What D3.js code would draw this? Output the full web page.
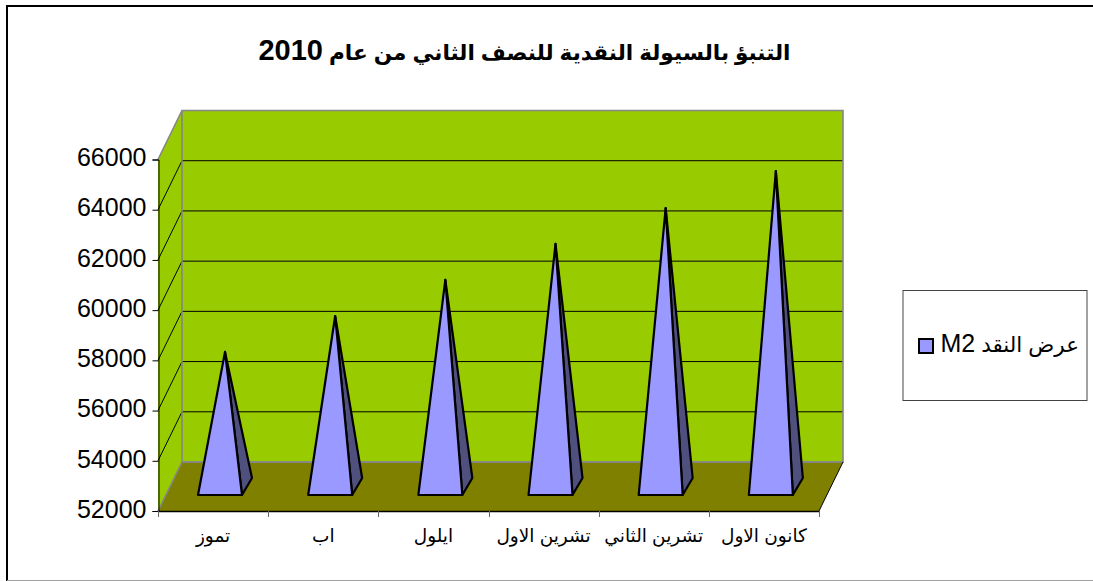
<!DOCTYPE html>
<html><head><meta charset="utf-8">
<script src="https://cdn.jsdelivr.net/npm/d3@7"></script>
<style>html,body{margin:0;padding:0;background:#fff}svg{display:block}text{font-family:"Liberation Sans","DejaVu Sans",sans-serif;fill:#000}</style>
</head><body><svg id="c" width="1093" height="581"></svg>
<script>
const categories=["تموز","اب","ايلول","تشرين الاول","تشرين الثاني","كانون الاول"];
const values=[57360,58790,60230,61660,63090,64560];
const yTicks=[52000,54000,56000,58000,60000,62000,64000,66000];
const titleArabic="التنبؤ بالسيولة النقدية للنصف الثاني من عام ";
const titleYear="2010";
const legendArabic="عرض النقد ";
const legendCode="M2";

const svg=d3.select("#c");
const depth={x:24,y:-49};
const x=d3.scaleBand().domain(categories).range([158,819]);
const y=d3.scaleLinear().domain([52000,66000]).range([511,159.5]);
const P=(a,b,d=0)=>[a+depth.x*d,b+depth.y*d];
const line=d3.line();
const poly=(pts,fill,stroke,w)=>svg.append("path").attr("d",line(pts)+"Z").attr("fill",fill).attr("stroke",stroke||"none").attr("stroke-width",w||0).attr("stroke-linejoin","round");
const seg=(pts,stroke,w)=>svg.append("path").attr("d",line(pts)).attr("fill","none").attr("stroke",stroke).attr("stroke-width",w);

// outer frame: heavy top and left, faint bottom
seg([[7,581],[7,6],[1093,6]],"#000",2);
seg([[7,580.5],[1093,580.5]],"#a0a0a0",1);

const x0=x.range()[0],x1=x.range()[1],y0=y(52000),yT=y(66000);
poly([P(x0,y0),P(x0,yT),P(x0,yT,1),P(x0,y0,1)],"#99cc00");
poly([P(x0,yT,1),P(x1,yT,1),P(x1,y0,1),P(x0,y0,1)],"#99cc00");
poly([P(x0,y0),P(x1,y0),P(x1,y0,1),P(x0,y0,1)],"#808000");

yTicks.slice(1,-1).forEach(v=>seg([P(x0,y(v)),P(x0,y(v),1),P(x1,y(v),1)],"#000",1));
const g="#868686";
seg([P(x0,yT),P(x0,yT,1),P(x1,yT,1),P(x1,y0,1),P(x0,y0,1),P(x0,y0)],g,1.6);
seg([P(x0,yT,1),P(x0,y0,1),P(x1,y0,1)],g,1.6);
seg([P(x1,y0,1),P(x1,y0)],"#000",1);

// axes
const yAxis=d3.axisLeft(y).tickValues(yTicks).tickFormat(d=>d).tickSizeOuter(0).tickSize(6).tickPadding(6);
const ga=svg.append("g").attr("transform","translate(158.5,0)").call(yAxis);
ga.selectAll("text").style("font-size","25px").attr("dy","0.25em");
ga.select(".domain").attr("stroke","#000");
const xAxis=d3.axisBottom(x).tickSize(0).tickPadding(17);
const gx=svg.append("g").attr("transform","translate(0,511.5)").call(xAxis);
gx.select(".domain").remove();
gx.selectAll("text").style("font-size","18.5px").attr("direction","rtl");
seg([[x0,511.5],[x1,511.5]],"#000",1.4);
d3.range(categories.length+1).forEach(i=>{
  const tx=Math.round(x0+i*x.step())+.5;
  seg([[tx,511],[tx,517]],"#666",1);
});

// pyramids
values.forEach((v,i)=>{
  const fx=x(categories[i])+40;
  const fl=[fx,495],fr=[fx+44,495],br=[fx+54,478];
  const apex=[fx+27,y(v)-24.5];
  poly([fr,br,apex],"#50507f","#000",2.2);
  poly([fl,fr,apex],"#9999ff","#000",2.2);
});

const t=svg.append("text").attr("x",524.5).attr("y",60).attr("text-anchor","middle").attr("direction","rtl").style("font-weight","bold");
t.append("tspan").style("font-size","21.6px").text(titleArabic);
t.append("tspan").style("font-size","29px").text(titleYear);

// legend
svg.append("rect").attr("x",903).attr("y",290.5).attr("width",184).attr("height",110).attr("fill","#fff").attr("stroke","#444").attr("stroke-width",1);
svg.append("rect").attr("x",919).attr("y",339).attr("width",14).attr("height",14).attr("fill","#9999ff").attr("stroke","#000").attr("stroke-width",2);
const l=svg.append("text").attr("x",1079).attr("y",352).attr("text-anchor","start").attr("direction","rtl");
l.append("tspan").style("font-size","21.5px").text(legendArabic);
l.append("tspan").style("font-size","25px").text(legendCode);
</script></body></html>
